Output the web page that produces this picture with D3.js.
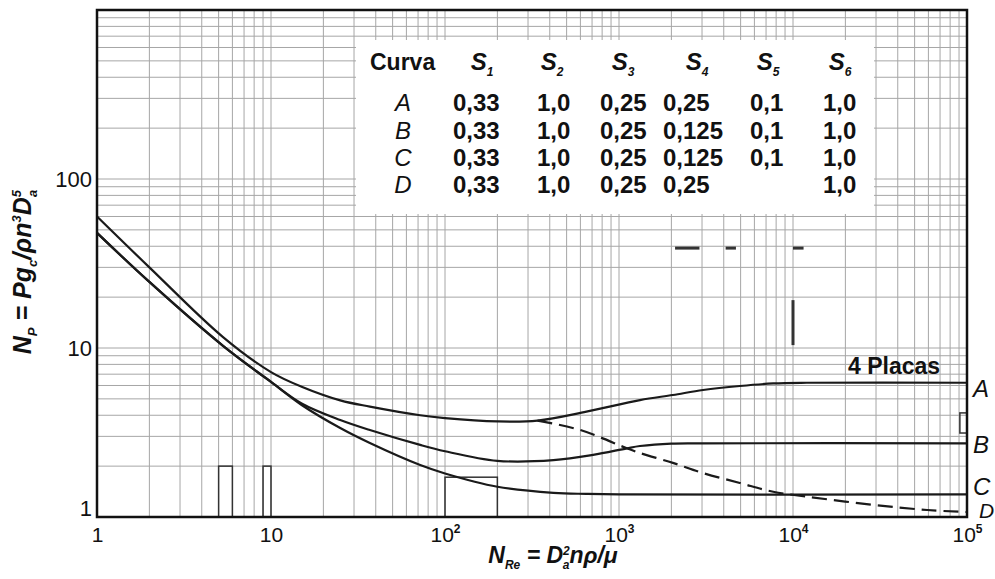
<!DOCTYPE html>
<html>
<head>
<meta charset="utf-8">
<script src="https://cdn.jsdelivr.net/npm/d3@7"></script>
<style>
  body { margin: 0; background: #fff; }
  svg { font-family: "Liberation Sans", Arial, sans-serif; }
</style>
</head>
<body>
<svg id="chart" width="995" height="579"></svg>
<script>
// curve readings (Reynolds number -> power number)
const reA = [1, 2, 5.3, 10, 15, 25, 37, 72, 100, 200, 340, 650, 1320, 2040, 3040, 4950, 7700, 12000, 100000];
const npA = [60, 30, 11.6, 7.2, 5.9, 4.9, 4.5, 4.0, 3.85, 3.68, 3.72, 4.2, 4.92, 5.27, 5.64, 5.96, 6.17, 6.23, 6.23];

const reB = [1, 2, 5.3, 10, 15, 25, 37, 72, 100, 200, 420, 710, 1110, 1320, 2000, 3000, 100000];
const npB = [48, 24.6, 10.3, 6.3, 4.7, 3.75, 3.27, 2.67, 2.45, 2.15, 2.17, 2.33, 2.55, 2.63, 2.72, 2.73, 2.73];

const reC = [1, 2, 5.3, 10, 15, 25, 37, 72, 100, 200, 420, 650, 1000, 100000];
const npC = [48, 24.6, 10.3, 6.3, 4.6, 3.36, 2.74, 2.03, 1.81, 1.51, 1.39, 1.37, 1.36, 1.36];

const reD = [340, 600, 1110, 1320, 2040, 3040, 4950, 7700, 12000, 29000, 59000, 100000];
const npD = [3.72, 3.27, 2.55, 2.39, 2.09, 1.82, 1.59, 1.41, 1.32, 1.18, 1.10, 1.07];

// table
const tableHead = ["1", "2", "3", "4", "5", "6"];
const curveLetters = ["A", "B", "C", "D"];
const s1 = ["0,33", "0,33", "0,33", "0,33"];
const s2 = ["1,0", "1,0", "1,0", "1,0"];
const s3 = ["0,25", "0,25", "0,25", "0,25"];
const s4 = ["0,25", "0,125", "0,125", "0,25"];
const s5 = ["0,1", "0,1", "0,1", ""];
const s6 = ["1,0", "1,0", "1,0", "1,0"];

// axes
const xTicks = [1, 10, 100, 1000, 10000, 100000];
const xTickExp = ["", "", "2", "3", "4", "5"];
const yTicks = [1, 10, 100];

// stray marks on the scanned sheet
const scanBoxes = [
  { re: [5, 6], np: [1, 2] },
  { re: [9, 10], np: [1, 2] },
  { re: [100, 200], np: [1, 1.72] },
  { re: [91000, 100000], np: [3.14, 4.13] }
];
const scanDashes = [
  { re: [2100, 2900], np: [39, 39] },
  { re: [4100, 4700], np: [39, 39] },
  { re: [10000, 11500], np: [39, 39] },
  { re: [10000, 10000], np: [10.4, 19.2] }
];

const svg = d3.select("#chart");

const x = d3.scaleLog().domain([1, 100000]).range([97, 967]);
const y = d3.scaleLog().domain([1, 1000]).range([517, 10]);

// log grid
const xGrid = [];
for (let d = 1; d <= 10000; d *= 10) for (let k = 1; k <= 9; k++) xGrid.push(k * d);
const yGrid = [];
for (let d = 1; d <= 100; d *= 10) for (let k = 1; k <= 9; k++) yGrid.push(k * d);

const grid = svg.append("g").attr("stroke", "#a6a6a6").attr("stroke-width", 1);
grid.selectAll(".vg").data(xGrid).enter().append("line")
  .attr("x1", (d) => x(d)).attr("x2", (d) => x(d))
  .attr("y1", 10).attr("y2", 517);
grid.selectAll(".hg").data(yGrid).enter().append("line")
  .attr("x1", 97).attr("x2", 967)
  .attr("y1", (d) => y(d)).attr("y2", (d) => y(d));

// blank panel behind the table
svg.append("rect")
  .attr("x", 356).attr("y", 40).attr("width", 518).attr("height", 174)
  .attr("fill", "#fff");

// scan marks
svg.append("g").selectAll("rect").data(scanBoxes).enter().append("rect")
  .attr("x", (d) => x(d.re[0]))
  .attr("y", (d) => y(d.np[1]))
  .attr("width", (d) => x(d.re[1]) - x(d.re[0]))
  .attr("height", (d) => y(d.np[0]) - y(d.np[1]))
  .attr("fill", "none").attr("stroke", "#333").attr("stroke-width", 1.5);

svg.append("g").selectAll("line").data(scanDashes).enter().append("line")
  .attr("x1", (d) => x(d.re[0])).attr("x2", (d) => x(d.re[1]))
  .attr("y1", (d) => y(d.np[0])).attr("y2", (d) => y(d.np[1]))
  .attr("stroke", "#333").attr("stroke-width", 3);

// curves
const curves = [
  { name: "A", re: reA, np: npA, dashed: false },
  { name: "B", re: reB, np: npB, dashed: false },
  { name: "C", re: reC, np: npC, dashed: false },
  { name: "D", re: reD, np: npD, dashed: true }
];

const line = d3.line()
  .x((d) => x(d[0]))
  .y((d) => y(d[1]))
  .curve(d3.curveCatmullRom.alpha(0.5));

svg.append("g").selectAll("path").data(curves).enter().append("path")
  .attr("d", (c) => line(c.re.map((r, i) => [r, c.np[i]])))
  .attr("fill", "none")
  .attr("stroke", "#1a1a1a")
  .attr("stroke-width", 2.2)
  .attr("stroke-dasharray", (c) => (c.dashed ? "15,7" : null));

// frame
svg.append("rect")
  .attr("x", 97).attr("y", 10).attr("width", 870).attr("height", 507)
  .attr("fill", "none").attr("stroke", "#111").attr("stroke-width", 2.5);

// x axis labels
const xAxis = svg.append("g")
  .attr("transform", "translate(0,517)")
  .call(d3.axisBottom(x).tickValues(xTicks).tickSize(0).tickPadding(0).tickFormat(""));
xAxis.select(".domain").remove();
xAxis.selectAll(".tick").each(function (d, i) {
  const t = d3.select(this).append("text")
    .attr("y", 25).attr("fill", "#111")
    .attr("text-anchor", "middle")
    .style("font-size", "21px");
  t.append("tspan").text(d === 1 ? "1" : "10");
  if (xTickExp[i]) {
    t.append("tspan").attr("dy", -9).style("font-size", "12px").style("font-weight", "bold").text(xTickExp[i]);
  }
});

// y axis labels
const yAxis = svg.append("g")
  .attr("transform", "translate(97,0)")
  .call(d3.axisLeft(y).tickValues(yTicks).tickSize(0).tickPadding(5).tickFormat((d) => String(d)));
yAxis.select(".domain").remove();
yAxis.selectAll(".tick text")
  .attr("fill", "#111")
  .style("font-size", "22px")
  .attr("dy", (d) => (d === 1 ? "-0.05em" : "0.35em"));

// axis titles
const yTitle = svg.append("text")
  .attr("transform", "translate(31,272) rotate(-90)")
  .attr("text-anchor", "middle")
  .style("font-size", "25px").style("font-weight", "bold").style("font-style", "italic")
  .attr("fill", "#111");
yTitle.append("tspan").text("N");
yTitle.append("tspan").attr("dy", 6).style("font-size", "13px").text("P");
yTitle.append("tspan").attr("dy", -6).text(" = Pg");
yTitle.append("tspan").attr("dy", 6).style("font-size", "13px").text("c");
yTitle.append("tspan").attr("dy", -6).text("/ρn");
yTitle.append("tspan").attr("dy", -10).style("font-size", "13px").text("3");
yTitle.append("tspan").attr("dy", 10).text("D");
yTitle.append("tspan").attr("dy", -10).style("font-size", "13px").text("5");
yTitle.append("tspan").attr("dy", 16).attr("dx", -7).style("font-size", "13px").text("a");

const xTitle = svg.append("text")
  .attr("x", 553).attr("y", 563)
  .attr("text-anchor", "middle")
  .style("font-size", "23px").style("font-weight", "bold").style("font-style", "italic")
  .attr("fill", "#111");
xTitle.append("tspan").text("N");
xTitle.append("tspan").attr("dy", 6).style("font-size", "12px").text("Re");
xTitle.append("tspan").attr("dy", -6).text(" = D");
xTitle.append("tspan").attr("dy", -8).style("font-size", "12px").text("2");
xTitle.append("tspan").attr("dy", 14).attr("dx", -7).style("font-size", "12px").text("a");
xTitle.append("tspan").attr("dy", -6).text("nρ/μ");

// curve labels at right
const labelShift = { A: 6, B: 1, C: -8, D: -1 };
const labelDx = { A: 6, B: 6, C: 6, D: 12 };
svg.append("g").selectAll("text").data(curves).enter().append("text")
  .attr("x", (c) => x(100000) + labelDx[c.name])
  .attr("y", (c) => y(c.np[c.np.length - 1]) + labelShift[c.name])
  .attr("dy", "0.35em")
  .style("font-size", (c) => (c.name === "D" ? "21px" : "24px"))
  .style("font-style", "italic")
  .attr("fill", "#111")
  .text((c) => c.name);

svg.append("text")
  .attr("x", x(20700)).attr("y", y(7.8)).attr("dy", "0.35em")
  .style("font-size", "23px").style("font-weight", "bold")
  .attr("fill", "#111")
  .text("4 Placas");

// table
const table = svg.append("g").attr("fill", "#111").style("font-size", "24px");
const headY = 62;
const rowY = [103, 131, 158, 185];
const colX = [453, 537, 600, 663, 750, 823];
const headX = [482, 552, 623, 697, 768, 840];

table.append("text")
  .attr("x", 370).attr("y", headY).attr("dy", "0.35em")
  .style("font-weight", "bold").style("font-size", "23px")
  .text("Curva");

table.selectAll(".hd").data(tableHead).enter().append("text")
  .attr("x", (d, i) => headX[i]).attr("y", headY).attr("dy", "0.35em")
  .attr("text-anchor", "middle")
  .style("font-weight", "bold").style("font-style", "italic")
  .each(function (d) {
    d3.select(this).append("tspan").text("S");
    d3.select(this).append("tspan").attr("dy", 6).style("font-size", "12px").text(d);
  });

table.selectAll(".lt").data(curveLetters).enter().append("text")
  .attr("x", 403).attr("y", (d, i) => rowY[i]).attr("dy", "0.35em")
  .attr("text-anchor", "middle").style("font-style", "italic")
  .text((d) => d);

[s1, s2, s3, s4, s5, s6].forEach((col, j) => {
  table.selectAll(".c" + j).data(col).enter().append("text")
    .attr("x", colX[j]).attr("y", (d, i) => rowY[i]).attr("dy", "0.35em")
    .style("font-weight", "bold")
    .text((d) => d);
});
</script>
</body>
</html>
